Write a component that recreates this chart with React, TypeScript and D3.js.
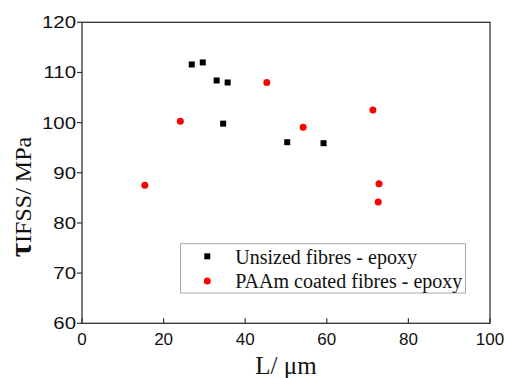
import React from "react";
import * as d3 from "d3";

const unsizedL = [26.9, 29.6, 33.0, 35.7, 34.6, 50.3, 59.2];
const unsizedT = [111.6, 112.0, 108.4, 108.0, 99.8, 96.1, 95.9];
const paamL = [15.4, 24.1, 45.3, 54.2, 71.3, 72.8, 72.6];
const paamT = [87.5, 100.3, 108.0, 99.1, 102.5, 87.8, 84.2];
const xTicks = [0, 20, 40, 60, 80, 100];
const yTicks = [60, 70, 80, 90, 100, 110, 120];
const legendLabels = ["Unsized fibres - epoxy", "PAAm coated fibres - epoxy"];

export default function App() {
  const W = 506, H = 378;
  const left = 82, right = 490, top = 22.3, bottom = 323.3;
  const x = d3.scaleLinear().domain([0, 100]).range([left, right]);
  const y = d3.scaleLinear().domain([60, 120]).range([bottom, top]);
  const axisColor = "#333";
  const sq = 6;
  const sans = "Liberation Sans, Arial, sans-serif";
  const serif = "Liberation Serif, Times New Roman, serif";
  return (
    <svg width={W} height={H} style={{ position: "absolute", left: 0, top: 0 }}>
      <rect x={0} y={0} width={W} height={H} fill="#fff" />
      <rect x={left} y={top} width={right - left} height={bottom - top} fill="none" stroke={axisColor} strokeWidth={1.3} />
      {yTicks.map((t) => (
        <g key={"y" + t}>
          <line x1={left - 5} x2={left} y1={y(t)} y2={y(t)} stroke={axisColor} strokeWidth={1.2} />
          <text transform={`translate(${left - 6},${y(t) + 6}) scale(1.2,1)`} textAnchor="end" fontFamily={sans} fontSize={17} fill="#111">{t}</text>
        </g>
      ))}
      {xTicks.map((t) => (
        <g key={"x" + t}>
          <line x1={x(t)} x2={x(t)} y1={bottom} y2={bottom - 5} stroke={axisColor} strokeWidth={1.2} />
          <text x={x(t)} y={345} textAnchor="middle" fontFamily={sans} fontSize={17} fill="#111">{t}</text>
        </g>
      ))}
      <text x={286} y={374} textAnchor="middle" fontFamily={serif} fontSize={25} fill="#111">L/ μm</text>
      <text transform={`translate(31,${197}) rotate(-90)`} textAnchor="middle" fontFamily={serif} fontSize={24} fill="#111">
        <tspan fontSize={31} fontWeight="bold">τ</tspan>IFSS/ MPa
      </text>
      {unsizedL.map((l, i) => (
        <rect key={"u" + i} x={x(l) - sq / 2} y={y(unsizedT[i]) - sq / 2} width={sq} height={sq} fill="#000" />
      ))}
      {paamL.map((l, i) => (
        <circle key={"p" + i} cx={x(l)} cy={y(paamT[i])} r={3.5} fill="#ff0000" />
      ))}
      <rect x={180.5} y={243.7} width={285} height={49.3} fill="#fff" stroke="#aaa" strokeWidth={1} />
      <rect x={207.3 - 3} y={256.3 - 3} width={6} height={6} fill="#000" />
      <circle cx={207.3} cy={281} r={3.5} fill="#ff0000" />
      <text x={235.3} y={263.5} fontFamily={serif} fontSize={20} fill="#111">{legendLabels[0]}</text>
      <text x={235.3} y={288} fontFamily={serif} fontSize={20} fill="#111">{legendLabels[1]}</text>
    </svg>
  );
}
